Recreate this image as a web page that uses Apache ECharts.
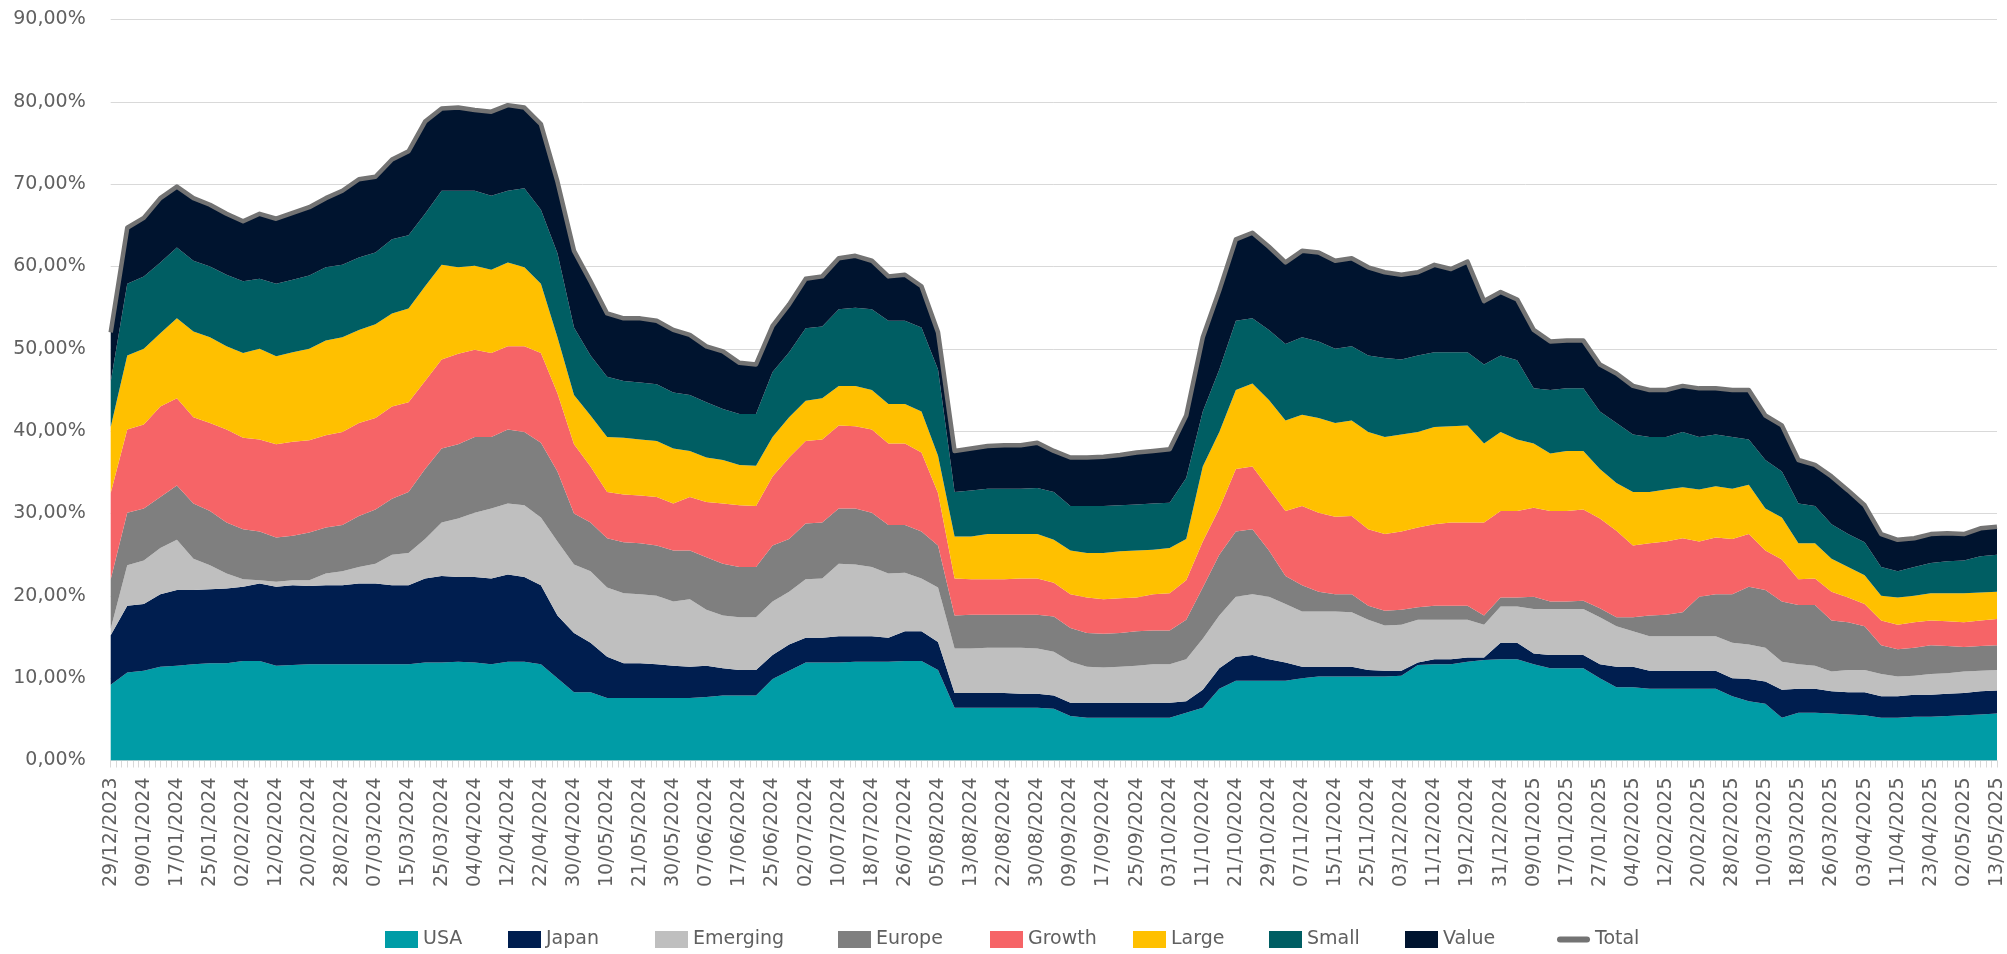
<!DOCTYPE html>
<html>
<head>
<meta charset="utf-8">
<script src="https://cdn.jsdelivr.net/npm/echarts@6/dist/echarts.min.js"></script>
<style>
html,body{margin:0;padding:0;background:#fff;}
#chart{width:2007px;height:954px;}
</style>
</head>
<body>
<div id="chart"></div>
<script>
const dates = [
'29/12/2023','04/01/2024','09/01/2024','12/01/2024','17/01/2024','22/01/2024','25/01/2024','30/01/2024','02/02/2024','07/02/2024',
'12/02/2024','15/02/2024','20/02/2024','23/02/2024','28/02/2024','04/03/2024','07/03/2024','12/03/2024','15/03/2024','20/03/2024',
'25/03/2024','28/03/2024','04/04/2024','09/04/2024','12/04/2024','17/04/2024','22/04/2024','25/04/2024','30/04/2024','06/05/2024',
'10/05/2024','15/05/2024','21/05/2024','24/05/2024','30/05/2024','04/06/2024','07/06/2024','12/06/2024','17/06/2024','20/06/2024',
'25/06/2024','28/06/2024','02/07/2024','05/07/2024','10/07/2024','15/07/2024','18/07/2024','23/07/2024','26/07/2024','31/07/2024',
'05/08/2024','08/08/2024','13/08/2024','19/08/2024','22/08/2024','27/08/2024','30/08/2024','04/09/2024','09/09/2024','12/09/2024',
'17/09/2024','20/09/2024','25/09/2024','30/09/2024','03/10/2024','08/10/2024','11/10/2024','16/10/2024','21/10/2024','24/10/2024',
'29/10/2024','01/11/2024','07/11/2024','12/11/2024','15/11/2024','20/11/2024','25/11/2024','28/11/2024','03/12/2024','06/12/2024',
'11/12/2024','16/12/2024','19/12/2024','24/12/2024','31/12/2024','06/01/2025','09/01/2025','14/01/2025','17/01/2025','22/01/2025',
'27/01/2025','30/01/2025','04/02/2025','07/02/2025','12/02/2025','17/02/2025','20/02/2025','25/02/2025','28/02/2025','05/03/2025',
'10/03/2025','13/03/2025','18/03/2025','21/03/2025','26/03/2025','31/03/2025','03/04/2025','08/04/2025','11/04/2025','16/04/2025',
'23/04/2025','29/04/2025','02/05/2025','07/05/2025','13/05/2025'
];

const usa = [
9.2,10.7,10.9,11.4,11.5,11.7,11.8,11.8,12.1,12.1,
11.5,11.6,11.7,11.7,11.7,11.7,11.7,11.7,11.7,11.9,
11.9,12.0,11.9,11.7,12.0,12.0,11.7,10.0,8.3,8.3,
7.6,7.6,7.6,7.6,7.6,7.6,7.7,7.9,7.9,7.9,
9.9,10.9,11.9,11.9,11.9,12.0,12.0,12.0,12.1,12.1,
11.0,6.4,6.4,6.4,6.4,6.4,6.4,6.3,5.4,5.2,
5.2,5.2,5.2,5.2,5.2,5.8,6.4,8.7,9.7,9.7,
9.7,9.7,10.0,10.2,10.2,10.2,10.2,10.2,10.3,11.6,
11.7,11.7,12.0,12.2,12.3,12.3,11.7,11.2,11.2,11.2,
10.0,8.9,8.9,8.7,8.7,8.7,8.7,8.7,7.8,7.2,
6.9,5.2,5.8,5.8,5.7,5.6,5.5,5.2,5.2,5.3,
5.3,5.4,5.5,5.6,5.7
];
const japan = [
6.0,8.1,8.1,8.8,9.2,9.0,9.0,9.1,9.0,9.4,
9.6,9.7,9.5,9.6,9.6,9.8,9.8,9.6,9.6,10.2,
10.5,10.3,10.4,10.4,10.6,10.3,9.6,7.6,7.2,6.0,
5.0,4.2,4.2,4.1,3.9,3.8,3.8,3.3,3.1,3.1,
2.9,3.2,3.0,3.0,3.2,3.1,3.1,2.9,3.6,3.6,
3.4,1.8,1.8,1.8,1.8,1.7,1.7,1.6,1.6,1.8,
1.8,1.8,1.8,1.8,1.8,1.4,2.2,2.5,2.9,3.1,
2.6,2.2,1.4,1.2,1.2,1.2,0.8,0.7,0.6,0.3,
0.6,0.6,0.5,0.3,2.0,2.0,1.3,1.6,1.6,1.6,
1.7,2.5,2.5,2.2,2.2,2.2,2.2,2.2,2.2,2.7,
2.7,3.4,2.9,2.9,2.7,2.7,2.8,2.6,2.6,2.7,
2.7,2.7,2.7,2.8,2.8
];
const emerging = [
0.8,4.9,5.3,5.6,6.1,3.8,2.9,1.8,0.9,0.4,
0.6,0.6,0.7,1.4,1.7,2.0,2.4,3.7,3.9,4.8,
6.5,7.1,7.8,8.5,8.6,8.7,8.2,9.0,8.3,8.7,
8.4,8.5,8.4,8.3,7.8,8.2,6.8,6.4,6.4,6.4,
6.5,6.4,7.1,7.2,8.8,8.7,8.4,7.8,7.1,6.4,
6.6,5.4,5.4,5.5,5.5,5.6,5.5,5.3,5.0,4.4,
4.3,4.4,4.5,4.7,4.7,5.1,6.2,6.4,7.3,7.4,
7.6,7.1,6.7,6.7,6.7,6.6,6.1,5.5,5.6,5.2,
4.8,4.8,4.6,4.0,4.4,4.4,5.4,5.6,5.6,5.6,
5.7,4.9,4.3,4.2,4.2,4.2,4.2,4.2,4.3,4.2,
4.1,3.4,3.0,2.8,2.4,2.7,2.7,2.7,2.4,2.3,
2.5,2.5,2.6,2.5,2.5
];
const europe = [
6.0,6.4,6.3,6.2,6.6,6.7,6.6,6.2,6.1,5.9,
5.4,5.4,5.8,5.6,5.6,6.2,6.6,6.8,7.4,8.5,
9.0,9.0,9.2,8.7,9.0,8.9,9.1,8.5,6.2,5.9,
6.0,6.2,6.2,6.1,6.2,5.9,6.4,6.3,6.1,6.1,
6.8,6.4,6.8,6.8,6.7,6.8,6.6,5.9,5.8,5.7,
5.1,4.0,4.1,4.0,4.0,4.0,4.1,4.3,4.1,4.1,
4.1,4.1,4.2,4.1,4.1,4.8,6.2,7.4,7.9,7.9,
5.6,3.4,3.2,2.4,2.1,2.2,1.7,1.8,1.8,1.5,
1.7,1.7,1.7,1.1,1.1,1.1,1.5,0.9,0.9,1.0,
1.1,1.1,1.7,2.5,2.6,2.9,4.8,5.1,5.9,7.0,
7.0,7.3,7.2,7.4,6.2,5.8,5.3,3.5,3.3,3.4,
3.5,3.3,3.0,3.0,3.0
];
const growth = [
10.5,10.1,10.2,11.0,10.6,10.5,10.7,11.3,11.1,11.2,
11.3,11.4,11.2,11.2,11.3,11.3,11.1,11.2,10.9,10.7,
10.8,11.0,10.6,10.2,10.1,10.4,10.9,9.5,8.4,6.8,
5.6,5.8,5.8,5.9,5.7,6.5,6.7,7.3,7.5,7.4,
8.4,9.9,10.0,10.1,10.1,10.0,10.1,9.9,9.9,9.6,
6.4,4.5,4.3,4.3,4.3,4.4,4.4,4.1,4.1,4.3,
4.2,4.2,4.1,4.4,4.5,4.8,5.6,5.6,7.6,7.6,
7.5,7.9,9.6,9.6,9.4,9.5,9.3,9.3,9.5,9.7,
9.9,10.1,10.1,11.3,10.5,10.5,10.8,11.0,11.0,11.1,
10.9,10.5,8.7,8.8,8.9,9.0,6.7,6.9,6.7,6.4,
4.8,5.1,3.1,3.2,3.5,3.0,2.7,3.0,3.0,3.1,
3.0,3.0,3.0,3.1,3.2
];
const large = [
8.0,9.0,9.2,8.9,9.7,10.4,10.4,10.1,10.3,11.0,
10.7,10.9,11.1,11.5,11.5,11.3,11.4,11.3,11.4,11.5,
11.5,10.5,10.2,10.1,10.2,9.6,8.4,6.8,6.0,6.2,
6.7,6.9,6.8,6.8,6.7,5.6,5.4,5.3,4.9,4.9,
4.8,4.9,4.9,5.0,4.8,4.9,4.8,4.8,4.8,5.0,
4.5,5.1,5.2,5.5,5.5,5.4,5.4,5.2,5.3,5.4,
5.6,5.7,5.7,5.4,5.5,5.0,9.1,9.3,9.6,10.1,
10.8,11.0,11.1,11.5,11.4,11.6,11.8,11.8,11.8,11.6,
11.8,11.7,11.8,9.6,9.6,8.7,7.8,7.0,7.3,7.1,
6.0,5.8,6.5,6.2,6.3,6.2,6.3,6.2,6.1,6.0,
5.1,5.1,4.4,4.3,4.0,3.7,3.5,3.0,3.3,3.2,
3.3,3.4,3.5,3.4,3.3
];
const small = [
5.5,8.7,8.8,8.6,8.6,8.6,8.6,8.7,8.7,8.5,
8.8,8.8,8.9,8.9,8.8,8.8,8.7,9.0,8.9,8.8,
9.0,9.3,9.1,9.0,8.7,9.6,9.0,10.2,8.2,7.3,
7.3,6.9,6.9,6.9,6.8,6.8,6.7,6.2,6.2,6.3,
7.9,7.9,8.8,8.7,9.3,9.5,9.8,10.1,10.1,10.2,
10.5,5.4,5.6,5.5,5.5,5.5,5.6,5.8,5.4,5.7,
5.7,5.6,5.6,5.6,5.5,7.4,6.7,7.6,8.4,7.9,
8.5,9.3,9.4,9.3,9.0,9.0,9.3,9.6,9.1,9.3,
9.1,9.0,8.9,9.6,9.3,9.6,6.7,7.7,7.6,7.6,
7.0,7.3,7.0,6.7,6.4,6.7,6.4,6.3,6.3,5.5,
5.9,5.6,4.8,4.5,4.2,4.0,4.0,3.5,3.2,3.5,
3.7,3.9,4.0,4.4,4.5
];
const value = [
6.0,6.8,7.1,7.8,7.4,7.6,7.5,7.4,7.3,7.9,
7.9,8.1,8.3,8.4,9.0,9.5,9.2,9.7,10.2,11.2,
10.0,10.1,9.8,10.2,10.4,9.8,10.4,8.7,9.3,9.0,
7.7,7.6,7.8,7.7,7.6,7.3,6.8,7.0,6.2,6.0,
5.6,5.8,6.0,6.1,6.2,6.3,5.9,5.4,5.6,5.0,
4.5,5.0,5.1,5.2,5.3,5.3,5.5,5.0,5.9,5.9,
6.0,6.1,6.3,6.4,6.5,7.6,9.0,9.6,9.9,10.4,
10.1,9.9,10.5,10.8,10.7,10.7,10.7,10.4,10.3,10.1,
10.6,10.1,11.0,7.7,7.7,7.4,7.1,5.9,5.8,5.8,
5.7,6.0,5.9,5.7,5.7,5.6,5.9,5.6,5.7,6.0,
5.4,5.6,5.3,5.0,5.8,5.3,4.5,4.0,3.8,3.5,
3.5,3.4,3.2,3.4,3.4
];
const total = [
52.0,64.7,65.9,68.3,69.7,68.3,67.5,66.4,65.5,66.4,
65.8,66.5,67.2,68.3,69.2,70.6,70.9,73.0,74.0,77.6,
79.2,79.3,79.0,78.8,79.6,79.3,77.3,70.3,61.9,58.2,
54.3,53.7,53.7,53.4,52.3,51.7,50.3,49.7,48.3,48.1,
52.8,55.4,58.5,58.8,61.0,61.3,60.7,58.8,59.0,57.6,
52.0,37.6,37.9,38.2,38.3,38.3,38.6,37.6,36.8,36.8,
36.9,37.1,37.4,37.6,37.8,41.9,51.4,57.1,63.3,64.1,
62.4,60.5,61.9,61.7,60.7,61.0,59.9,59.3,59.0,59.3,
60.2,59.7,60.6,55.8,56.9,56.0,52.3,50.9,51.0,51.0,
48.1,47.0,45.5,45.0,45.0,45.5,45.2,45.2,45.0,45.0,
41.9,40.7,36.5,35.9,34.5,32.8,31.0,27.5,26.8,27.0,
27.5,27.6,27.5,28.2,28.4
];

const seriesNames = ['USA','Japan','Emerging','Europe','Growth','Large','Small','Value'];
const seriesData = [usa, japan, emerging, europe, growth, large, small, value];
const colors = ['#009ca6','#001e4f','#bfbfbf','#7f7f7f','#f66467','#ffc000','#005e63','#00142f'];
const totalColor = '#737373';
const legendNames = seriesNames.concat(['Total']);
const legendLeft = [385, 508, 655, 838, 990, 1133, 1269, 1405, 1557];

const FONT = '"DejaVu Sans", "Open Sans", sans-serif';
const TXT = '#606060';
const chart = echarts.init(document.getElementById('chart'), null, {renderer: 'canvas'});

const series = seriesNames.map((n, i) => ({
  name: n,
  type: 'line',
  stack: 'all',
  data: seriesData[i],
  symbol: 'none',
  showSymbol: false,
  lineStyle: {width: 0, color: colors[i]},
  itemStyle: {color: colors[i]},
  areaStyle: {color: colors[i], opacity: 1},
  emphasis: {disabled: true},
  z: 2
}));
series.push({
  name: 'Total',
  type: 'line',
  data: total,
  symbol: 'none',
  showSymbol: false,
  lineStyle: {width: 4.5, color: totalColor, join: 'round'},
  itemStyle: {color: totalColor},
  emphasis: {disabled: true},
  z: 5
});

const legends = legendNames.map((n, i) => ({
  data: [{
    name: n,
    icon: n === 'Total'
      ? 'path://M3,0 L30,0 A3,3 0 0 1 30,6 L3,6 A3,3 0 0 1 3,0 Z'
      : 'rect'
  }],
  left: legendLeft[i],
  top: 930,
  itemWidth: 33,
  itemHeight: 17,
  itemGap: 0,
  padding: 0,
  selectedMode: false,
  textStyle: {fontFamily: FONT, fontSize: 19, color: TXT}
}));

chart.setOption({
  animation: false,
  backgroundColor: '#ffffff',
  color: colors.concat([totalColor]),
  grid: {left: 110.7, right: 10, top: 19.5, bottom: 193.5, containLabel: false},
  legend: legends,
  xAxis: [{
    type: 'category',
    data: dates,
    boundaryGap: false,
    axisLine: {show: true, lineStyle: {color: '#d9d9d9', width: 1}},
    axisTick: {show: false},
    axisLabel: {
      interval: 1,
      rotate: 90,
      margin: 17,
      fontFamily: FONT,
      fontSize: 19,
      color: TXT
    },
    splitLine: {show: false}
  }, {
    type: 'value',
    position: 'bottom',
    min: 0,
    max: 342,
    interval: 1,
    axisLine: {show: false},
    axisTick: {show: true, length: 7, lineStyle: {color: '#d9d9d9', width: 1}},
    axisLabel: {show: false},
    splitLine: {show: false}
  }],
  yAxis: {
    type: 'value',
    min: 0,
    max: 90,
    interval: 10,
    axisLine: {show: false},
    axisTick: {show: false},
    axisLabel: {
      margin: 25,
      fontFamily: FONT,
      fontSize: 19,
      color: TXT,
      formatter: v => v.toFixed(2).replace('.', ',') + '%'
    },
    splitLine: {show: true, lineStyle: {color: '#d9d9d9', width: 1}}
  },
  series: series
});
</script>
</body>
</html>
